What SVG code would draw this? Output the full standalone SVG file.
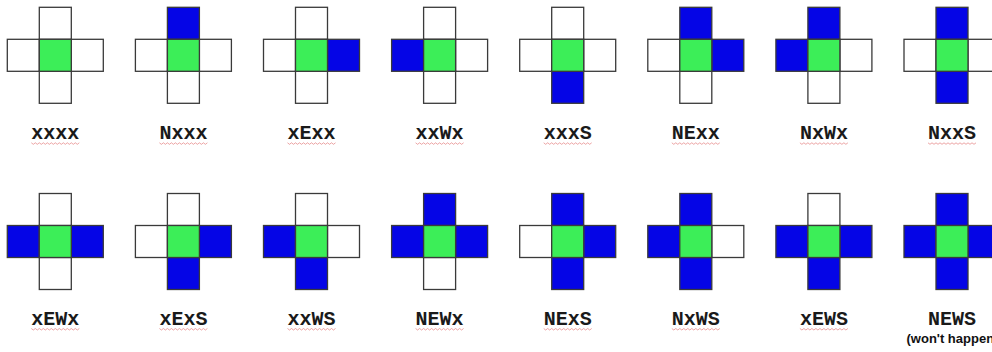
<svg xmlns="http://www.w3.org/2000/svg" xmlns:xlink="http://www.w3.org/1999/xlink" width="992" height="352" viewBox="0 0 992 352">
<style>
.c{stroke:#3a3a3a;stroke-width:1.3;}
.w{fill:#ffffff;}
.b{fill:#0505e6;}
.g{fill:#3cee58;}
.lbl{font-family:"Liberation Mono","Courier New",monospace;font-weight:bold;font-size:20px;fill:#1a1a1a;text-anchor:middle;}
.note{font-family:"Liberation Sans",Arial,sans-serif;font-weight:bold;font-size:13px;fill:#111;}
.sq{fill:none;stroke:#e07070;stroke-width:0.9;opacity:0.7;}
</style>
<defs>
<path id="sq" d="M-24 0 l2 1.5 l2 -1.5 l2 1.5 l2 -1.5 l2 1.5 l2 -1.5 l2 1.5 l2 -1.5 l2 1.5 l2 -1.5 l2 1.5 l2 -1.5 l2 1.5 l2 -1.5 l2 1.5 l2 -1.5 l2 1.5 l2 -1.5 l2 1.5 l2 -1.5 l2 1.5 l2 -1.5 l2 1.5 l2 -1.5"/>
</defs>
<rect width="992" height="352" fill="#ffffff"/>
<g id="connectors"/>

<g id="xxxx" transform="translate(7.3,7.3)">
<rect class="c w" x="32" y="0" width="32" height="32"/><rect class="c w" x="0" y="32" width="32" height="32"/><rect class="c w" x="64" y="32" width="32" height="32"/><rect class="c w" x="32" y="64" width="32" height="32"/><rect class="c g" x="32" y="32" width="32" height="32"/>
<text class="lbl" x="48" y="132">xxxx</text><use href="#sq" class="sq" x="48" y="135.5"/>
</g>
<g id="Nxxx" transform="translate(135.4,7.3)">
<rect class="c b" x="32" y="0" width="32" height="32"/><rect class="c w" x="0" y="32" width="32" height="32"/><rect class="c w" x="64" y="32" width="32" height="32"/><rect class="c w" x="32" y="64" width="32" height="32"/><rect class="c g" x="32" y="32" width="32" height="32"/>
<text class="lbl" x="48" y="132">Nxxx</text><use href="#sq" class="sq" x="48" y="135.5"/>
</g>
<g id="xExx" transform="translate(263.5,7.3)">
<rect class="c w" x="32" y="0" width="32" height="32"/><rect class="c w" x="0" y="32" width="32" height="32"/><rect class="c b" x="64" y="32" width="32" height="32"/><rect class="c w" x="32" y="64" width="32" height="32"/><rect class="c g" x="32" y="32" width="32" height="32"/>
<text class="lbl" x="48" y="132">xExx</text><use href="#sq" class="sq" x="48" y="135.5"/>
</g>
<g id="xxWx" transform="translate(391.6,7.3)">
<rect class="c w" x="32" y="0" width="32" height="32"/><rect class="c b" x="0" y="32" width="32" height="32"/><rect class="c w" x="64" y="32" width="32" height="32"/><rect class="c w" x="32" y="64" width="32" height="32"/><rect class="c g" x="32" y="32" width="32" height="32"/>
<text class="lbl" x="48" y="132">xxWx</text><use href="#sq" class="sq" x="48" y="135.5"/>
</g>
<g id="xxxS" transform="translate(519.7,7.3)">
<rect class="c w" x="32" y="0" width="32" height="32"/><rect class="c w" x="0" y="32" width="32" height="32"/><rect class="c w" x="64" y="32" width="32" height="32"/><rect class="c b" x="32" y="64" width="32" height="32"/><rect class="c g" x="32" y="32" width="32" height="32"/>
<text class="lbl" x="48" y="132">xxxS</text><use href="#sq" class="sq" x="48" y="135.5"/>
</g>
<g id="NExx" transform="translate(647.8,7.3)">
<rect class="c b" x="32" y="0" width="32" height="32"/><rect class="c w" x="0" y="32" width="32" height="32"/><rect class="c b" x="64" y="32" width="32" height="32"/><rect class="c w" x="32" y="64" width="32" height="32"/><rect class="c g" x="32" y="32" width="32" height="32"/>
<text class="lbl" x="48" y="132">NExx</text><use href="#sq" class="sq" x="48" y="135.5"/>
</g>
<g id="NxWx" transform="translate(775.9,7.3)">
<rect class="c b" x="32" y="0" width="32" height="32"/><rect class="c b" x="0" y="32" width="32" height="32"/><rect class="c w" x="64" y="32" width="32" height="32"/><rect class="c w" x="32" y="64" width="32" height="32"/><rect class="c g" x="32" y="32" width="32" height="32"/>
<text class="lbl" x="48" y="132">NxWx</text><use href="#sq" class="sq" x="48" y="135.5"/>
</g>
<g id="NxxS" transform="translate(904,7.3)">
<rect class="c b" x="32" y="0" width="32" height="32"/><rect class="c w" x="0" y="32" width="32" height="32"/><rect class="c w" x="64" y="32" width="32" height="32"/><rect class="c b" x="32" y="64" width="32" height="32"/><rect class="c g" x="32" y="32" width="32" height="32"/>
<text class="lbl" x="48" y="132">NxxS</text><use href="#sq" class="sq" x="48" y="135.5"/>
</g>

<g id="xEWx" transform="translate(7.3,193.5)">
<rect class="c w" x="32" y="0" width="32" height="32"/><rect class="c b" x="0" y="32" width="32" height="32"/><rect class="c b" x="64" y="32" width="32" height="32"/><rect class="c w" x="32" y="64" width="32" height="32"/><rect class="c g" x="32" y="32" width="32" height="32"/>
<text class="lbl" x="48" y="131.5">xEWx</text><use href="#sq" class="sq" x="48" y="135"/>
</g>
<g id="xExS" transform="translate(135.4,193.5)">
<rect class="c w" x="32" y="0" width="32" height="32"/><rect class="c w" x="0" y="32" width="32" height="32"/><rect class="c b" x="64" y="32" width="32" height="32"/><rect class="c b" x="32" y="64" width="32" height="32"/><rect class="c g" x="32" y="32" width="32" height="32"/>
<text class="lbl" x="48" y="131.5">xExS</text><use href="#sq" class="sq" x="48" y="135"/>
</g>
<g id="xxWS" transform="translate(263.5,193.5)">
<rect class="c w" x="32" y="0" width="32" height="32"/><rect class="c b" x="0" y="32" width="32" height="32"/><rect class="c w" x="64" y="32" width="32" height="32"/><rect class="c b" x="32" y="64" width="32" height="32"/><rect class="c g" x="32" y="32" width="32" height="32"/>
<text class="lbl" x="48" y="131.5">xxWS</text><use href="#sq" class="sq" x="48" y="135"/>
</g>
<g id="NEWx" transform="translate(391.6,193.5)">
<rect class="c b" x="32" y="0" width="32" height="32"/><rect class="c b" x="0" y="32" width="32" height="32"/><rect class="c b" x="64" y="32" width="32" height="32"/><rect class="c w" x="32" y="64" width="32" height="32"/><rect class="c g" x="32" y="32" width="32" height="32"/>
<text class="lbl" x="48" y="131.5">NEWx</text><use href="#sq" class="sq" x="48" y="135"/>
</g>
<g id="NExS" transform="translate(519.7,193.5)">
<rect class="c b" x="32" y="0" width="32" height="32"/><rect class="c w" x="0" y="32" width="32" height="32"/><rect class="c b" x="64" y="32" width="32" height="32"/><rect class="c b" x="32" y="64" width="32" height="32"/><rect class="c g" x="32" y="32" width="32" height="32"/>
<text class="lbl" x="48" y="131.5">NExS</text><use href="#sq" class="sq" x="48" y="135"/>
</g>
<g id="NxWS" transform="translate(647.8,193.5)">
<rect class="c b" x="32" y="0" width="32" height="32"/><rect class="c b" x="0" y="32" width="32" height="32"/><rect class="c w" x="64" y="32" width="32" height="32"/><rect class="c b" x="32" y="64" width="32" height="32"/><rect class="c g" x="32" y="32" width="32" height="32"/>
<text class="lbl" x="48" y="131.5">NxWS</text><use href="#sq" class="sq" x="48" y="135"/>
</g>
<g id="xEWS" transform="translate(775.9,193.5)">
<rect class="c w" x="32" y="0" width="32" height="32"/><rect class="c b" x="0" y="32" width="32" height="32"/><rect class="c b" x="64" y="32" width="32" height="32"/><rect class="c b" x="32" y="64" width="32" height="32"/><rect class="c g" x="32" y="32" width="32" height="32"/>
<text class="lbl" x="48" y="131.5">xEWS</text><use href="#sq" class="sq" x="48" y="135"/>
</g>
<g id="NEWS" transform="translate(904,193.5)">
<rect class="c b" x="32" y="0" width="32" height="32"/><rect class="c b" x="0" y="32" width="32" height="32"/><rect class="c b" x="64" y="32" width="32" height="32"/><rect class="c b" x="32" y="64" width="32" height="32"/><rect class="c g" x="32" y="32" width="32" height="32"/>
<text class="lbl" x="48" y="131.5">NEWS</text>
<text class="note" x="2.5" y="149.5">(won't happen</text>
</g>
</svg>
